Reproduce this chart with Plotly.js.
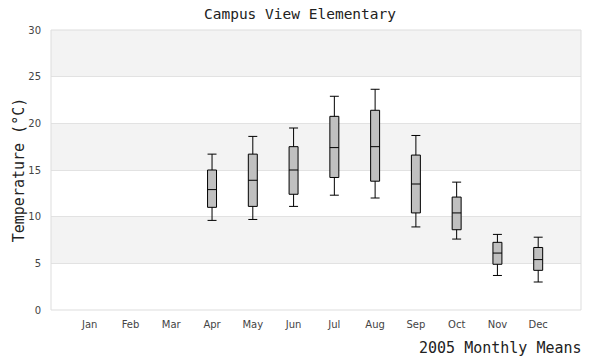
<!DOCTYPE html>
<html>
<head>
<meta charset="utf-8">
<script src="https://cdn.plot.ly/plotly-3.0.1.min.js"></script>
<style>html,body{margin:0;padding:0;background:#fff;}#chart{width:600px;height:360px;}</style>
</head>
<body>
<div id="chart"></div>
<script>
const months = ["Jan","Feb","Mar","Apr","May","Jun","Jul","Aug","Sep","Oct","Nov","Dec"];
const boxMonths = ["Apr","May","Jun","Jul","Aug","Sep","Oct","Nov","Dec"];
const lowerWhisker = [9.6, 9.7, 11.1, 12.3, 12.0, 8.9, 7.6, 3.7, 3.0];
const q1Values     = [11.0, 11.1, 12.4, 14.2, 13.8, 10.4, 8.6, 4.9, 4.25];
const medianValues = [12.9, 13.9, 15.0, 17.4, 17.5, 13.5, 10.4, 6.1, 5.4];
const q3Values     = [15.0, 16.7, 17.5, 20.75, 21.4, 16.6, 12.1, 7.25, 6.7];
const upperWhisker = [16.7, 18.6, 19.5, 22.9, 23.65, 18.7, 13.7, 8.1, 7.8];
const yTicks = [0, 5, 10, 15, 20, 25, 30];
const bands = [[5,10],[15,20],[25,30]];

const trace = {
  type: 'box',
  x: boxMonths,
  lowerfence: lowerWhisker,
  q1: q1Values,
  median: medianValues,
  q3: q3Values,
  upperfence: upperWhisker,
  fillcolor: '#c0c0c0',
  line: {color: '#000000', width: 1},
  width: 0.22,
  whiskerwidth: 1,
  boxpoints: false,
  hoverinfo: 'skip',
  showlegend: false
};

const shapes = bands.map(b => ({
  type: 'rect', xref: 'paper', yref: 'y', x0: 0, x1: 1, y0: b[0], y1: b[1],
  fillcolor: '#f3f3f3', line: {width: 0}, layer: 'below'
}));
shapes.push({type: 'rect', xref: 'paper', yref: 'paper', x0: 0, x1: 1, y0: 0, y1: 1,
  line: {color: '#dddddd', width: 1}, fillcolor: 'rgba(0,0,0,0)', layer: 'above'});

const monoFont = 'DejaVu Sans Mono, monospace';

const layout = {
  width: 600, height: 360,
  margin: {l: 51, r: 19, t: 30, b: 50},
  paper_bgcolor: '#ffffff',
  plot_bgcolor: '#ffffff',
  font: {family: 'DejaVu Sans, sans-serif', size: 10, color: '#444444'},
  title: {text: 'Campus View Elementary', font: {family: monoFont, size: 14.5, color: '#222222'},
          x: 0.5, xanchor: 'center', y: 0.96, yanchor: 'middle'},
  xaxis: {
    type: 'category', categoryorder: 'array', categoryarray: months,
    tickvals: months, ticktext: months,
    range: [-0.95, 12.05], showgrid: false, zeroline: false, showline: false, ticks: '',
    ticklabelstandoff: 7,
    tickfont: {family: 'DejaVu Sans, sans-serif', size: 10, color: '#444444'}
  },
  yaxis: {
    range: [0, 30], tickvals: yTicks, showgrid: true, gridcolor: '#e2e2e2', gridwidth: 1,
    zeroline: false, showline: false, ticks: '',
    ticklabelstandoff: 9,
    tickfont: {family: 'DejaVu Sans, sans-serif', size: 10, color: '#444444'},
    title: {text: 'Temperature (°C)', font: {family: monoFont, size: 15, color: '#222222'}, standoff: 0}
  },
  shapes: shapes,
  annotations: [{
    text: '2005 Monthly Means', xref: 'paper', yref: 'paper', x: 1.005, y: -0.135,
    xanchor: 'right', yanchor: 'middle', showarrow: false,
    font: {family: monoFont, size: 15, color: '#222222'}
  }]
};

Plotly.newPlot('chart', [trace], layout, {displayModeBar: false, staticPlot: true});
</script>
</body>
</html>
